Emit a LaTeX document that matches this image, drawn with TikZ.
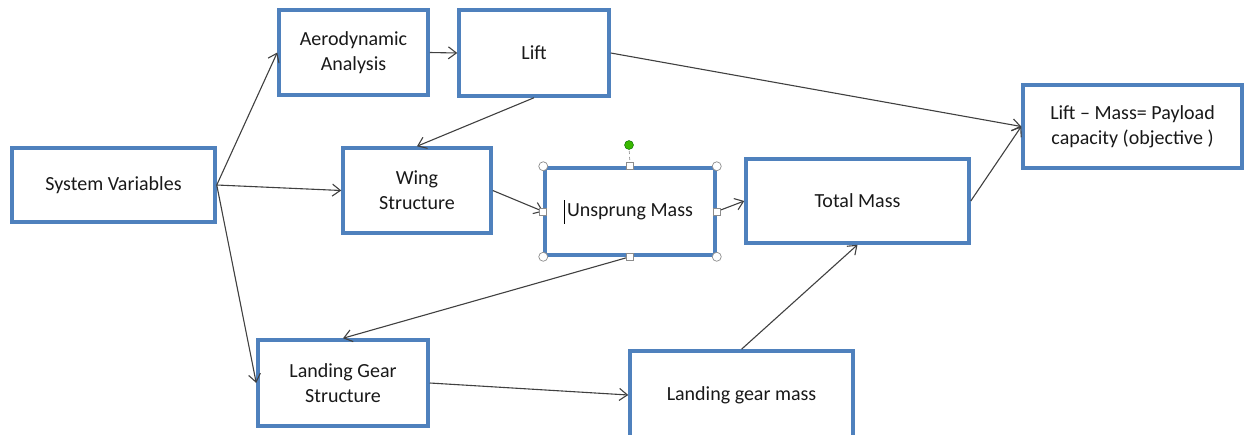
\documentclass[tikz,border=0pt]{standalone}
\usepackage{fontspec}
\setmainfont{Carlito}
\usetikzlibrary{arrows.meta}
\definecolor{boxblue}{RGB}{79,129,189}
\definecolor{handlegray}{RGB}{140,140,140}
\begin{document}
\begin{tikzpicture}[
    x=1pt, y=-1pt,
    block/.style={draw=boxblue, line width=3.5pt, fill=white, align=center,
      inner sep=0pt, text=black!90, font=\fontsize{20}{25}\selectfont},
    flow/.style={->, draw=black!75, line width=1.1pt,
      >={Straight Barb[length=8pt,width=12pt]}},
    handle/.style={draw=handlegray, fill=white, line width=0.7pt},
  ]
  \useasboundingbox (0,0) rectangle (1244,434);
  % boxes
  \node[block, minimum width=203pt, minimum height=74pt] (sysvar) at (113.5,185) {System Variables};
  \node[block, minimum width=149pt, minimum height=85pt] (aero) at (353.5,52.5) {Aerodynamic\\Analysis};
  \node[block, minimum width=150pt, minimum height=86pt] (lift) at (534,53) {Lift};
  \node[block, minimum width=148pt, minimum height=85pt] (wing) at (417,190.5) {Wing\\Structure};
  \node[block, minimum width=170pt, minimum height=87pt] (unsprung) at (630,211.5) {Unsprung Mass};
  \node[block, minimum width=223pt, minimum height=84pt] (total) at (857.5,201) {Total Mass};
  \node[block, minimum width=219pt, minimum height=83pt] (payload) at (1132.5,126.5) {Lift -- Mass= Payload\\capacity (objective~)};
  \node[block, minimum width=170pt, minimum height=86pt] (lgstruct) at (343,383) {Landing Gear\\Structure};
  \node[block, minimum width=223pt, minimum height=88pt] (lgmass) at (741.5,395) {Landing gear mass};
  % connectors
  \draw[flow] (sysvar.east) -- (aero.west);
  \draw[flow] (sysvar.east) -- (wing.west);
  \draw[flow] (sysvar.east) -- (lgstruct.west);
  \draw[flow] (aero.east) -- (lift.west);
  \draw[flow] (lift.south) -- (wing.north);
  \draw[flow] (lift.east) -- (payload.west);
  \draw[flow] (wing.east) -- (unsprung.west);
  \draw[flow] (unsprung.east) -- (total.west);
  \draw[flow] (unsprung.south) -- (lgstruct.north);
  \draw[flow] (lgstruct.east) -- (lgmass.west);
  \draw[flow] (lgmass.north) -- (total.south);
  \draw[flow] (total.east) -- (payload.west);
  % selection handles round the unsprung mass box
  \draw[handlegray, dashed, line width=0.7pt] (629,145) -- (unsprung.north);
  \fill[green!60!black!70!lime, draw=green!40!black, line width=0.4pt] (629,145) circle (4.5pt);
  \foreach \c in {north west, north east, south west, south east}
    \draw[handle] (unsprung.\c) circle (4.5pt);
  \foreach \c in {north, south, east, west}
    \draw[handle] ([shift={(-3.5pt,-3.5pt)}]unsprung.\c) rectangle ++(7pt,7pt);
  \draw[black, line width=0.9pt] (564,200) -- (564,224);
\end{tikzpicture}
\end{document}
